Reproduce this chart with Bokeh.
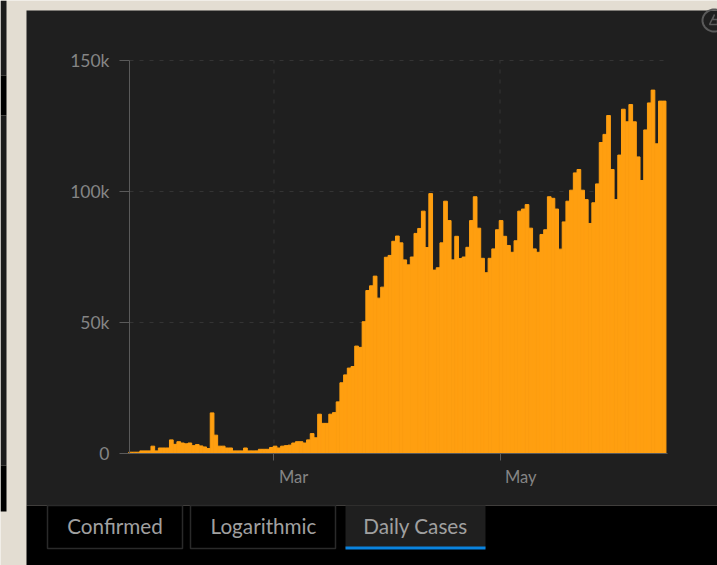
import numpy as np
import pandas as pd
from bokeh.embed import file_html
from bokeh.models import (BoxAnnotation, ColumnDataSource, FixedTicker, Label,
                          NumeralTickFormatter, PolyAnnotation, Range1d)
from bokeh.plotting import figure
from bokeh.resources import INLINE

START = "2020-01-22"
daily_cases = [
    500, 500, 500, 1000, 1000, 1000, 2800, 1000, 2100, 2100,
    2100, 5200, 3500, 4500, 4000, 3700, 4000, 3000, 3400, 2900,
    2500, 1900, 15500, 7000, 2800, 2800, 2100, 2100, 1000, 1000,
    1000, 2100, 1000, 1000, 1000, 1600, 1600, 1600, 2300, 2800,
    2100, 2800, 3000, 3200, 4000, 4500, 4500, 4000, 5200, 7600,
    6000, 15000, 11500, 11500, 15000, 15600, 19700, 27000, 30000, 32600,
    33200, 41000, 40500, 50300, 62200, 64000, 67700, 59300, 63500, 74900,
    75600, 81000, 83000, 80400, 73900, 72000, 75000, 84000, 85900, 92500,
    78600, 99200, 70000, 70900, 80400, 96300, 88900, 73900, 82900, 74400,
    75000, 78700, 88900, 98000, 86000, 74500, 69000, 74500, 78100, 85400,
    88900, 82900, 79400, 76800, 81200, 92500, 93300, 95000, 86000, 78100,
    76800, 83600, 85400, 98000, 97400, 93300, 78000, 88400, 96300, 100500,
    107100, 108400, 100500, 96900, 87800, 95700, 102900, 118700, 121800, 129000,
    108400, 96900, 113900, 131400, 126600, 133200, 126600, 113200, 104200, 123500,
    133800, 138700, 118200, 134500, 134500,
]
y_ticks = [0, 50000, 100000, 150000]
grid_values = [50000, 100000, 150000]
month_ticks = ["2020-03-01", "2020-05-01"]
month_labels = ["Mar", "May"]
tab_labels = ["Confirmed", "Logarithmic", "Daily Cases"]

FONT = "Lato"
BEIGE, PANEL, BLACK = "#e3ddd2", "#1f1f1f", "#000000"
ORANGE, AXIS, GRID, TEXT = "#ff9f10", "#5a5a5a", "#343434", "#858585"
W, H = 717, 565
X0, Y0 = 129, 453            # pixel of the first day and of zero
PX_DAY, PX_CASE = 3.705, 393 / 150000

t0 = pd.Timestamp(START)
DAY = 86400000
t0ms = t0.value / 1e6
ms = lambda d: pd.Timestamp(d).value / 1e6
px_x = lambda x: t0ms + (x - X0) / PX_DAY * DAY
px_y = lambda y: (Y0 - y) / PX_CASE

dates = pd.date_range(START, periods=len(daily_cases), freq="D")
source = ColumnDataSource(dict(x=dates + pd.Timedelta(hours=7), y=daily_cases))
last_edge = px_x(667)

p = figure(width=W, height=H, x_axis_type="datetime", output_backend="svg", toolbar_location=None,
           x_range=Range1d(px_x(0), px_x(W)), y_range=Range1d(px_y(H), px_y(0)),
           min_border=0, background_fill_color=BEIGE, border_fill_color=BEIGE,
           outline_line_color=None)
p.grid.visible = False


def box(l, r, t, b, fill, line=None, width=1):
    p.add_layout(BoxAnnotation(left=px_x(l), right=px_x(r), top=px_y(t), bottom=px_y(b),
                               fill_color=fill, fill_alpha=1, line_color=line, line_width=width,
                               line_alpha=1, level="underlay"))


box(26, W, 10, 505, PANEL)
box(26, W, 505, H, BLACK)
box(0, 6, 0, 75, "#1c1c1c")
box(0, 6, 75, 115, BLACK)
box(0, 6, 115, 465, "#1c1c1c")
box(0, 6, 465, 511, BLACK)
box(47, 182, 505, 548, BLACK, "#2a2a2a", 1.5)
box(190, 335, 505, 548, BLACK, "#2a2a2a", 1.5)
box(345, 485, 505, 548, PANEL)
box(345, 485, 546, 549, "#0a84e0")

tick_ms = [ms(d) for d in month_ticks]
p.segment(x0=tick_ms, x1=tick_ms, y0=[0] * len(tick_ms), y1=[grid_values[-1]] * len(tick_ms),
          line_color=GRID, line_dash="4 6", line_width=1)
p.segment(x0=[t0ms] * len(grid_values), x1=[last_edge] * len(grid_values), y0=grid_values, y1=grid_values,
          line_color=GRID, line_dash="4 6", line_width=1)

p.vbar(x="x", top="y", width=DAY, bottom=0, source=source,
       fill_color=ORANGE, line_color=ORANGE, line_width=1)

xa, ya = p.xaxis[0], p.yaxis[0]
xa.fixed_location = 0
xa.bounds = (t0ms, last_edge)
xa.ticker = FixedTicker(ticks=tick_ms)
xa.major_label_overrides = {t: "" for t in tick_ms}
xa.major_tick_out, xa.major_tick_in = 7, 0
xa.minor_tick_line_color = None
xa.axis_line_color = AXIS
xa.major_tick_line_color = AXIS
ya.fixed_location = t0ms
ya.bounds = (0, 150000)
ya.ticker = FixedTicker(ticks=y_ticks)
ya.formatter = NumeralTickFormatter(format="0a")
ya.major_tick_out, ya.major_tick_in = 10, 0
ya.minor_tick_line_color = None
ya.axis_line_color = AXIS
ya.major_tick_line_color = AXIS
ya.major_label_standoff = 10
ya.major_label_text_color = TEXT
ya.major_label_text_font = FONT
ya.major_label_text_font_size = "17.5px"

for t, s in zip(tick_ms, month_labels):
    p.add_layout(Label(x=t, y=0, text=s, x_offset=5, y_offset=-23, text_color=TEXT,
                       text_font=FONT, text_font_size="16.5px", text_align="left",
                       text_baseline="middle"))

for cx, s in zip([114.5, 263, 415], tab_labels):
    p.add_layout(Label(x=px_x(cx), y=px_y(525), text=s,
                       text_color="#a0a0a0", text_font=FONT, text_font_size="20.7px",
                       text_align="center", text_baseline="middle"))

ang = np.linspace(0, 2 * np.pi, 60)
p.add_layout(PolyAnnotation(xs=[px_x(v) for v in 714 + 12 * np.cos(ang)],
                            ys=[px_y(v) for v in 20 + 11 * np.sin(ang)],
                            fill_alpha=0, line_color="#5a5a5a", line_width=2, line_alpha=1))
p.add_layout(PolyAnnotation(xs=[px_x(v) for v in [709, 714, 712, 717, 717]],
                            ys=[px_y(v) for v in [24, 14, 19, 19, 24]],
                            fill_alpha=0, line_color="#5a5a5a", line_width=1.5, line_alpha=1))

open("out.html", "w").write(file_html(p, INLINE))
